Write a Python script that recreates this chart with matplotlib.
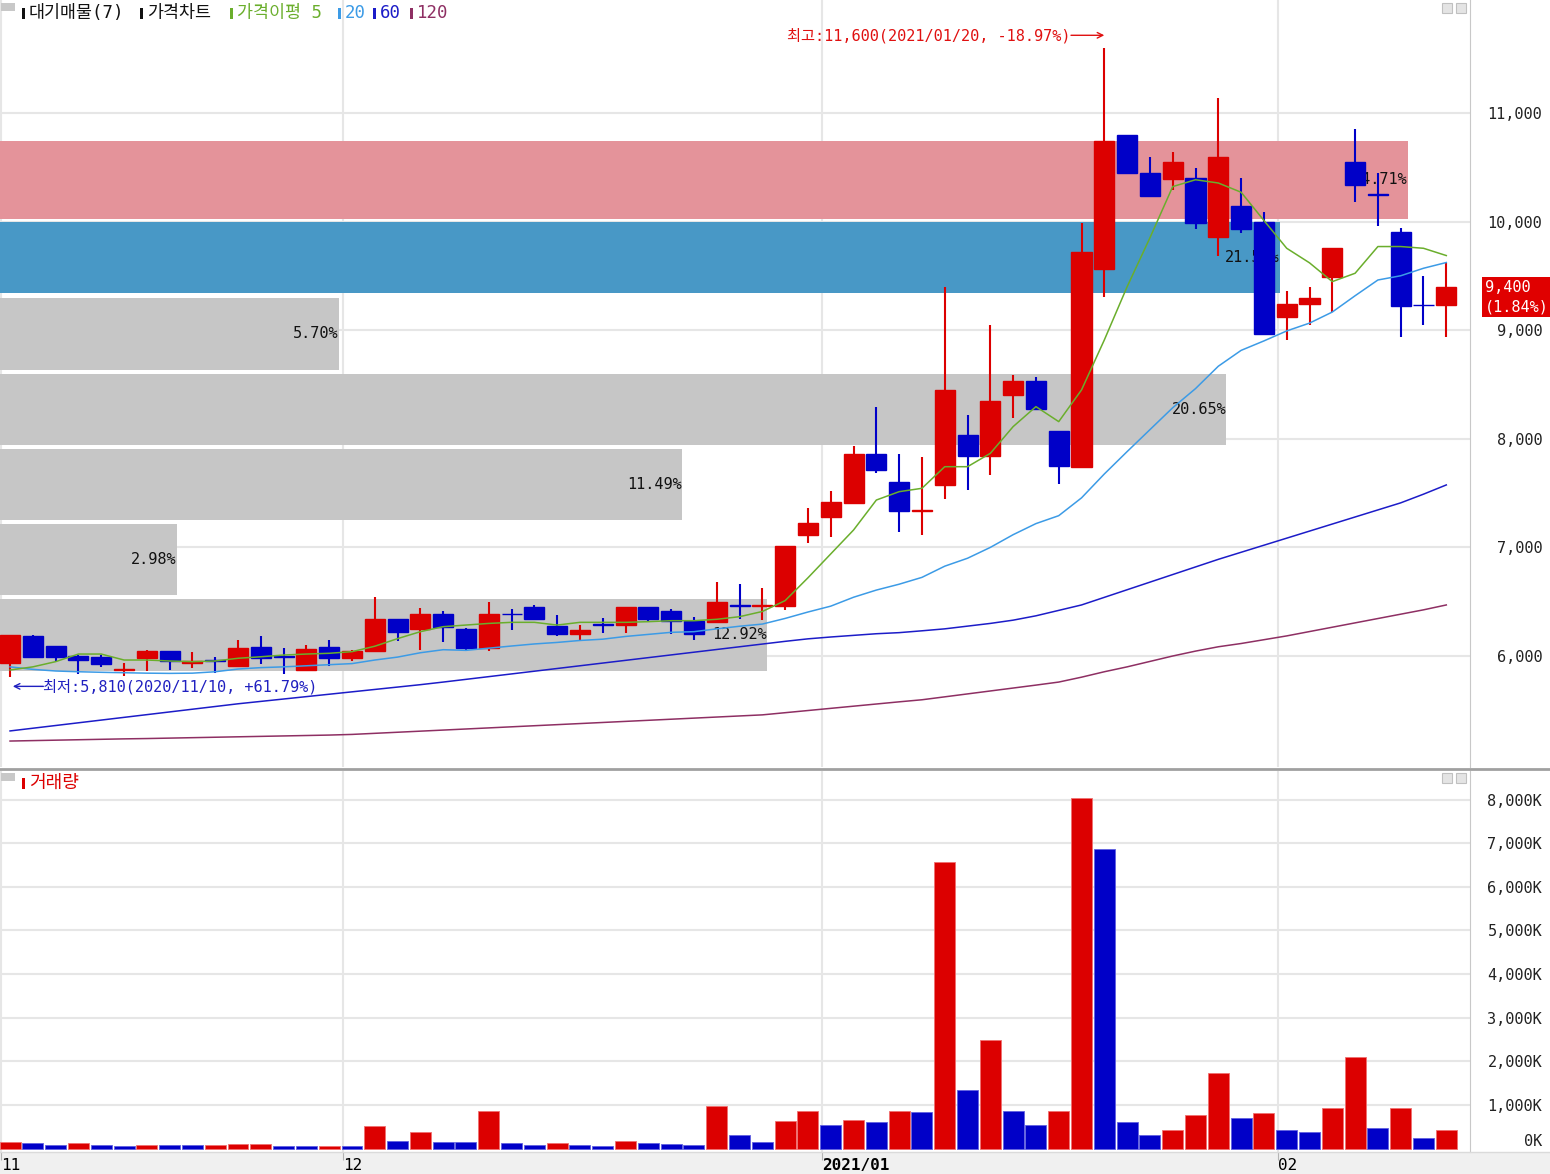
import matplotlib
matplotlib.use('Agg')
import matplotlib.pyplot as plt
from matplotlib.patches import Rectangle
from matplotlib.lines import Line2D
from matplotlib.transforms import offset_copy
import numpy as np

plt.rcParams['font.family'] = ['DejaVu Sans Mono', 'Noto Sans CJK KR']

# ---- daily candles (2020/11/10 .. 2021/02/10) ----
opens = [5940, 6185, 6090, 6000, 5995, 5875, 5980, 6045, 5935, 5960,
         5910, 6085, 6000, 5870, 6085, 5980, 6045, 6340, 6250, 6390,
         6250, 6075, 6390, 6455, 6275, 6200, 6295, 6290, 6450, 6410,
         6320, 6315, 6465, 6460, 6460, 7115, 7280, 7405, 7860, 7600,
         7335, 7570, 8035, 7845, 8400, 8535, 8075, 7740, 9560, 10800,
         10450, 10390, 10400, 9860, 10145, 9995, 9120, 9240, 9485, 10545,
         10250, 9900, 9235, 9230]
highs = [6190, 6190, 6090, 6005, 6005, 5940, 6055, 6050, 6040, 5995,
         6150, 6185, 6075, 6100, 6150, 6055, 6545, 6345, 6440, 6410,
         6255, 6500, 6435, 6470, 6375, 6285, 6350, 6455, 6455, 6435,
         6360, 6685, 6665, 6625, 7010, 7360, 7515, 7930, 8295, 7860,
         7830, 9395, 8220, 9050, 8590, 8565, 8075, 9985, 11600, 10800,
         10595, 10645, 10495, 11140, 10400, 10090, 9360, 9400, 9760, 10850,
         10450, 9945, 9500, 9620]
lows = [5810, 5980, 5950, 5830, 5900, 5820, 5860, 5870, 5890, 5840,
        5910, 5925, 5830, 5870, 5905, 5950, 6045, 6140, 6055, 6130,
        6050, 6050, 6235, 6335, 6180, 6145, 6210, 6210, 6310, 6200,
        6145, 6310, 6345, 6330, 6420, 7040, 7100, 7400, 7685, 7140,
        7110, 7445, 7530, 7665, 8190, 8270, 7585, 7730, 9310, 10445,
        10235, 10290, 9930, 9685, 9895, 8965, 8910, 9050, 9170, 10180,
        9955, 8940, 9050, 8940]
closes = [6190, 5995, 5990, 5965, 5925, 5880, 6050, 5950, 5950, 5950,
          6075, 5980, 5990, 6065, 5980, 6045, 6340, 6225, 6390, 6265,
          6075, 6390, 6385, 6340, 6200, 6240, 6290, 6450, 6340, 6325,
          6200, 6500, 6460, 6470, 7010, 7220, 7415, 7860, 7715, 7335,
          7340, 8450, 7845, 8345, 8535, 8275, 7750, 9720, 10740, 10445,
          10235, 10545, 9985, 10595, 9930, 8965, 9245, 9295, 9760, 10335,
          10245, 9225, 9230, 9400]

# moving averages as drawn on the chart
ma5 = [5871, 5900, 5948, 6018, 6018, 5963, 5963, 5954, 5948, 5954,
       5979, 5993, 6009, 6018, 6025, 6040, 6090, 6160, 6224, 6270,
       6285, 6300, 6310, 6310, 6285, 6310, 6310, 6310, 6316, 6325,
       6325, 6338, 6362, 6410, 6510, 6720, 6940, 7160, 7436, 7513,
       7544, 7743, 7743, 7866, 8112, 8296, 8158, 8450, 8910, 9400,
       9850, 10322, 10385, 10355, 10270, 10010, 9754, 9620, 9447, 9524,
       9770, 9770, 9754, 9687]
ma20 = [5900, 5877, 5862, 5855, 5850, 5846, 5842, 5840, 5842, 5855,
        5880, 5893, 5900, 5910, 5920, 5930, 5963, 5990, 6030, 6058,
        6052, 6072, 6092, 6111, 6125, 6143, 6155, 6180, 6199, 6218,
        6224, 6250, 6274, 6294, 6346, 6405, 6459, 6541, 6607, 6661,
        6724, 6827, 6900, 7000, 7117, 7219, 7292, 7456, 7676, 7882,
        8084, 8286, 8462, 8668, 8814, 8901, 8993, 9065, 9167, 9317,
        9462, 9501, 9570, 9623]
ma60 = [5310, 5335, 5360, 5385, 5410, 5435, 5460, 5485, 5510, 5535,
        5560, 5582, 5604, 5626, 5648, 5670, 5692, 5714, 5736, 5760,
        5785, 5810, 5835, 5860, 5885, 5910, 5935, 5960, 5985, 6010,
        6035, 6060, 6085, 6110, 6135, 6158, 6175, 6190, 6205, 6215,
        6232, 6250, 6275, 6300, 6330, 6370, 6420, 6470, 6540, 6610,
        6680, 6750, 6820, 6890, 6955, 7020, 7085, 7150, 7215, 7280,
        7345, 7410, 7490, 7575]
ma120 = [5217, 5221, 5225, 5229, 5233, 5237, 5240, 5244, 5248, 5252,
         5256, 5260, 5264, 5268, 5272, 5278, 5288, 5298, 5308, 5318,
         5328, 5338, 5348, 5358, 5368, 5378, 5388, 5398, 5408, 5418,
         5428, 5438, 5448, 5458, 5478, 5498, 5518, 5538, 5558, 5578,
         5597, 5624, 5651, 5678, 5705, 5732, 5760, 5805, 5855, 5900,
         5950, 6000, 6045, 6085, 6115, 6150, 6185, 6225, 6265, 6305,
         6345, 6385, 6425, 6470]

# volume (thousand shares)
volume = [160, 120, 90, 115, 90, 60, 85, 80, 78, 80,
          105, 110, 60, 58, 62, 55, 505, 180, 390, 160,
          155, 850, 120, 90, 115, 90, 60, 165, 120, 95,
          90, 985, 300, 160, 640, 870, 530, 665, 600, 850,
          845, 6580, 1350, 2480, 850, 530, 870, 8050, 6860, 600,
          300, 435, 780, 1740, 710, 825, 435, 390, 920, 2110,
          460, 940, 230, 435]

# volume-at-price bands (price range, share %)
band_lo = [10024, 9343, 8634, 7943, 7252, 6561, 5862]
band_hi = [10742, 9996, 9296, 8597, 7906, 7215, 6525]
band_pct = [24.71, 21.55, 5.70, 20.65, 11.49, 2.98, 12.92]
band_kind = ['top', 'cur', 'g', 'g', 'g', 'g', 'g']

month_idx = [0, 15, 36, 56]
month_lbl = ['11', '12', '2021/01', '02']
price_ticks = [6000, 7000, 8000, 9000, 10000, 11000]
vol_ticks = [0, 1000, 2000, 3000, 4000, 5000, 6000, 7000, 8000]

RED = '#DC0000'
BLUE = '#0000C8'
C_MA5 = '#6AAE2C'
C_MA20 = '#3C9BE6'
C_MA60 = '#1C1CC8'
C_MA120 = '#8E2F63'
GRID = '#E6E6E6'
BAND_COL = {'top': '#E4939A', 'cur': '#4898C6', 'g': '#C6C6C6'}

W, H = 1550, 1174
FS = 11


def fx(x):
    return x / W


def fy(y):
    return 1 - y / H


fig = plt.figure(figsize=(W / 100, H / 100), dpi=100)
fig.patch.set_facecolor('white')

ax = fig.add_axes([0, fy(767), fx(1470), 767 / H])
axv = fig.add_axes([0, fy(1152), fx(1470), (1152 - 771) / H])

idx = np.arange(len(closes))
o = np.array(opens)
c = np.array(closes)
hi = np.array(highs)
lo = np.array(lows)
xl, xr = -0.44, 64.04

for a in (ax, axv):
    a.set_xlim(xl, xr)
    for s in ('top', 'left', 'bottom'):
        a.spines[s].set_visible(False)
    a.spines['right'].set_color('#C8C8C8')
    a.yaxis.tick_right()
    a.set_xticks([])
    for m in month_idx:
        a.axvline(m - 0.4, color=GRID, lw=1.5, zorder=0)

# ---- price panel ----
ax.set_ylim(4978, 12040)
ax.set_yticks(price_ticks)
ax.set_yticklabels([f'{v:,}' for v in price_ticks])
ax.tick_params(axis='y', length=0, pad=52, labelsize=FS, colors='#222222')
for lab in ax.get_yticklabels():
    lab.set_horizontalalignment('right')
for p in price_ticks:
    ax.axhline(p, color=GRID, lw=1.5, zorder=0)

# volume-at-price bands
scale = 2.605
max_len = 61.75
for b_lo, b_hi, pct, kind in zip(band_lo, band_hi, band_pct, band_kind):
    length = min(pct * scale, max_len)
    ax.barh((b_lo + b_hi) / 2, length, height=b_hi - b_lo, left=xl,
            color=BAND_COL[kind], zorder=1)
    ax.text(xl + length, (b_lo + b_hi) / 2, f'{pct:.2f}%', ha='right',
            va='center', fontsize=FS, color='#111111', zorder=2)

# candles
cols = np.where(c >= o, RED, BLUE)
ax.vlines(idx, lo, hi, colors=cols, lw=1.5, zorder=3)
ax.bar(idx, np.abs(c - o), bottom=np.minimum(o, c), width=0.88,
       color=cols, edgecolor=cols, lw=1.0, zorder=4)

# moving averages
ax.plot(idx, ma120, color=C_MA120, lw=1.1, zorder=5)
ax.plot(idx, ma60, color=C_MA60, lw=1.1, zorder=5)
ax.plot(idx, ma20, color=C_MA20, lw=1.1, zorder=5)
ax.plot(idx, ma5, color=C_MA5, lw=1.1, zorder=5)

# high / low notes with long arrows
ih = int(np.argmax(hi))
il = int(np.argmin(lo))
last = c[-1]
hi_anchor = offset_copy(ax.transData, fig=fig, x=0, y=9, units='points')
lo_anchor = offset_copy(ax.transData, fig=fig, x=2, y=-7, units='points')
HI_COL, LO_COL = '#E01010', '#2020C0'
ax.annotate('', xy=(ih, hi[ih]), xycoords=hi_anchor, xytext=(-24, 0),
            textcoords='offset points',
            arrowprops=dict(arrowstyle='->', color=HI_COL, lw=1.0,
                            shrinkA=0, shrinkB=0), zorder=6)
ax.annotate(f'최고:{hi[ih]:,}(2021/01/20, {(last / hi[ih] - 1) * 100:.2f}%)',
            xy=(ih, hi[ih]), xycoords=hi_anchor, xytext=(-24, 0),
            textcoords='offset points', ha='right', va='center',
            fontsize=FS, color=HI_COL, zorder=6)
ax.annotate('', xy=(il, lo[il]), xycoords=lo_anchor, xytext=(22, 0),
            textcoords='offset points',
            arrowprops=dict(arrowstyle='->', color=LO_COL, lw=1.0,
                            shrinkA=0, shrinkB=0), zorder=6)
ax.annotate(f'최저:{lo[il]:,}(2020/11/10, +{(last / lo[il] - 1) * 100:.2f}%)',
            xy=(il, lo[il]), xycoords=lo_anchor, xytext=(22, 0),
            textcoords='offset points', ha='left', va='center',
            fontsize=FS, color=LO_COL, zorder=6)

# current price box
chg = (last / c[-2] - 1) * 100
ax.annotate(f'{last:,.0f}\n({chg:.2f}%)', xy=(1.0, last),
            xycoords=('axes fraction', 'data'), xytext=(11, 4.5),
            textcoords='offset points', ha='left', va='top', fontsize=FS,
            color='white', linespacing=1.3, annotation_clip=False,
            bbox=dict(boxstyle='square,pad=0.2', fc='#E00000', ec='none'))

# ---- volume panel ----
axv.set_ylim(-80, 8658)
vol = np.array(volume)
vcol = [RED] + [RED if vol[i] > vol[i - 1] else BLUE for i in range(1, len(vol))]
vedge = ['#F07070' if col == RED else '#6060E0' for col in vcol]
axv.bar(idx, vol, width=0.92, color=vcol, edgecolor=vedge, lw=0.6, zorder=3)
axv.set_yticks(vol_ticks)
axv.set_yticklabels([f'{v:,}K' for v in vol_ticks])
axv.tick_params(axis='y', length=0, pad=52, labelsize=FS, colors='#222222')
for lab in axv.get_yticklabels():
    lab.set_horizontalalignment('right')
axv.get_yticklabels()[0].set_verticalalignment('bottom')
for v in vol_ticks[1:]:
    axv.axhline(v, color=GRID, lw=1.5, zorder=0)

axv.set_xticks([m - 0.4 for m in month_idx])
axv.set_xticklabels(month_lbl)
axv.tick_params(axis='x', length=6, color='#B4B4B4', pad=-2, labelsize=11.5)
for lab in axv.get_xticklabels():
    lab.set_horizontalalignment('left')
axv.get_xticklabels()[2].set_fontweight('bold')

# ---- frame decorations ----
fig.patches.append(Rectangle((0, 0), 1, fy(1152), transform=fig.transFigure,
                             fc='#F0F0F0', ec='none', zorder=-1))
fig.lines.append(Line2D([0, 1], [fy(768.5), fy(768.5)], transform=fig.transFigure,
                        color='#A0A0A0', lw=2))
fig.lines.append(Line2D([0, 1], [fy(1152), fy(1152)], transform=fig.transFigure,
                        color='#DADADA', lw=1))

for top in (3, 773):
    fig.patches.append(Rectangle((fx(1), fy(top + 8)), fx(14), 8 / H,
                                 transform=fig.transFigure, fc='#C8C8C8', ec='none'))
    for x0 in (1442, 1456):
        fig.patches.append(Rectangle((fx(x0), fy(top + 10)), fx(10), 10 / H,
                                     transform=fig.transFigure, fc='#E4E4E4',
                                     ec='#C0C0C0', lw=0.8))

# header legend
header = [(22, '대기매물(7)', '#111111'),
          (140, '가격차트', '#111111'),
          (230, '가격이평 5', C_MA5),
          (338, '20', C_MA20),
          (373, '60', C_MA60),
          (410, '120', C_MA120)]
for x0, txt, col in header:
    fig.patches.append(Rectangle((fx(x0), fy(19)), fx(3), 11 / H,
                                 transform=fig.transFigure, fc=col, ec='none'))
    fig.text(fx(x0 + 7), fy(13), txt, ha='left', va='center', fontsize=12.5,
             color=col)

fig.patches.append(Rectangle((fx(22), fy(789)), fx(3), 11 / H,
                             transform=fig.transFigure, fc=RED, ec='none'))
fig.text(fx(29), fy(783), '거래량', ha='left', va='center', fontsize=13, color=RED)

fig.savefig('out.png', dpi=100, facecolor=fig.get_facecolor())
